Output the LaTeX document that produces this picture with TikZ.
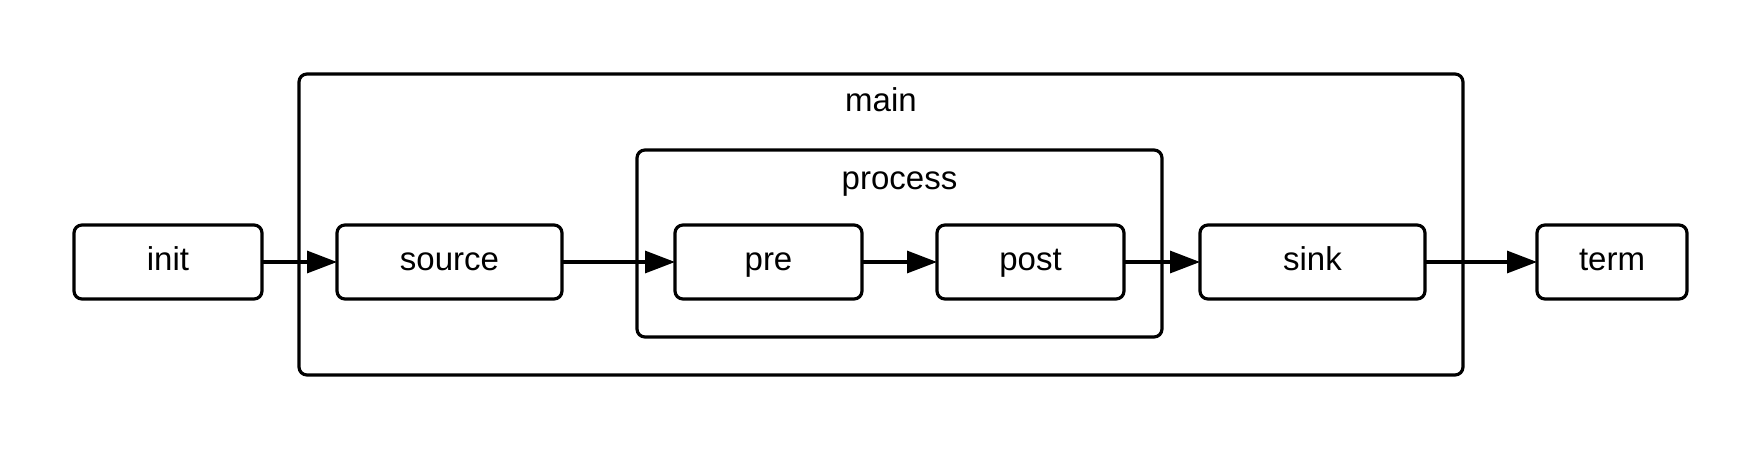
\documentclass[tikz,border=0pt]{standalone}
\usepackage{fontspec}
\setmainfont{Liberation Sans}
\usetikzlibrary{arrows.meta,positioning,calc,fit}

\begin{document}
\begin{tikzpicture}[
  font=\fontsize{16.5}{20}\selectfont,
  box/.style={draw, line width=1.6pt, rounded corners=4pt, minimum height=37pt, inner sep=0pt, outer sep=0pt, text height=12pt, text depth=3.5pt},
  group/.style={draw, line width=1.6pt, rounded corners=4pt, inner sep=19pt, outer sep=0pt},
  arr/.style={-{Triangle[length=15pt,width=11pt]}, line width=1.6pt},
  node distance=37.5pt
]
\useasboundingbox (0,0) rectangle (881.5pt,-225pt);
\node[box, minimum width=94pt] (init) at (84pt,-131pt) {init};
\node[box, minimum width=112.5pt, right=of init] (source) {source};
\node[box, minimum width=93.5pt, right=56.5pt of source] (pre) {pre};
\node[box, minimum width=93.5pt, right=of pre] (post) {post};
\node[box, minimum width=112.5pt, right=38pt of post] (sink) {sink};
\node[box, minimum width=75pt, right=56pt of sink] (term) {term};
\node[group, fit={(pre) (post) ($(pre.north)+(0,18.5pt)$)}] (process) {};
\node (processlabel) at ($(process.north)+(0,-17pt)$) {process};
\node[group, fit={(source) (sink) (process) ($(process.north)+(0,19pt)$)}] (main) {};
\node (mainlabel) at ($(main.north)+(0,-13pt)$) {main};
\draw[arr] (init) -- (source);
\draw[arr] (source) -- (pre);
\draw[arr] (pre) -- (post);
\draw[arr] (post) -- (sink);
\draw[arr] (sink) -- (term);
\end{tikzpicture}
\end{document}
